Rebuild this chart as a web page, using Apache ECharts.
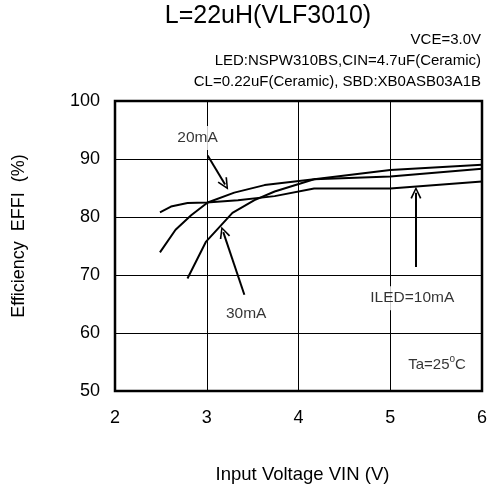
<!DOCTYPE html>
<html><head><meta charset="utf-8">
<script src="https://cdn.jsdelivr.net/npm/echarts@6/dist/echarts.min.js"></script>
<style>html,body{margin:0;padding:0;background:#fff}#c{width:487px;height:489px}</style>
</head><body><div id="c"></div>
<script>
const xTicks = [2, 3, 4, 5, 6];
const yTicks = [50, 60, 70, 80, 90, 100];
const led10mA = [[2.49,80.8],[2.61,81.8],[2.79,82.4],[3.0,82.5],[3.34,82.9],[3.74,83.6],[4.17,84.9],[5.0,84.9],[6.0,86.1]];
const led20mA = [[2.49,73.9],[2.66,77.8],[2.83,80.3],[3.01,82.5],[3.3,84.2],[3.63,85.5],[4.17,86.5],[5.0,88.1],[6.0,89.0]];
const led30mA = [[2.79,69.4],[2.99,75.7],[3.28,80.7],[3.52,82.9],[3.74,84.4],[4.17,86.5],[5.0,87.0],[6.0,88.3]];
const arrows = [
  [[3.01,90.6],[3.2,85.6]],
  [[3.41,66.6],[3.18,77.4]],
  [[5.28,71.4],[5.28,84.2]]
];
const notes = [
  {x:2.9, y:93.6, text:'20mA'},
  {x:3.43, y:63.3, text:'30mA'},
  {x:5.24, y:66.0, text:'ILED=10mA'}
];
const tempNote = {x:5.51, y:54.7};

const FONT = '"Liberation Sans", Arial, sans-serif';
const chevron = 'path://M0,10 L5,0 L10,10 L8.6,10.6 L5,3 L1.4,10.6 Z';
const lineSeries = (d) => ({type:'line', data:d, showSymbol:false, symbol:'none', lineStyle:{color:'#000', width:2}, z:3, silent:true});
const sub = (text, top) => ({text:text, right:6, top:top, padding:0, textStyle:{fontFamily:FONT, fontSize:15, fontWeight:'normal', color:'#000'}});

const chart = echarts.init(document.getElementById('c'));
chart.setOption({
  animation:false,
  backgroundColor:'#fff',
  title:[
    {text:'L=22uH(VLF3010)', left:268, top:4, padding:0, textAlign:'center', textStyle:{fontFamily:FONT, fontSize:25, fontWeight:'normal', color:'#000'}},
    sub('VCE=3.0V', 32),
    sub('LED:NSPW310BS,CIN=4.7uF(Ceramic)', 53),
    sub('CL=0.22uF(Ceramic), SBD:XB0ASB03A1B', 74)
  ],
  grid:{left:115, right:5, top:101, bottom:98, show:true, borderColor:'#000', borderWidth:2.5, backgroundColor:'transparent', containLabel:false, outerBoundsMode:'none'},
  xAxis:{type:'value', min:xTicks[0], max:xTicks[xTicks.length-1], interval:1,
    name:'Input Voltage VIN (V)', nameLocation:'middle', nameGap:74,
    nameTextStyle:{fontFamily:FONT, fontSize:18.5, color:'#000', padding:[0,0,0,8]},
    axisLine:{show:false}, axisTick:{show:false},
    axisLabel:{fontFamily:FONT, fontSize:18, color:'#000', margin:18},
    splitLine:{show:true, lineStyle:{color:'#000', width:1}}},
  yAxis:{type:'value', min:yTicks[0], max:yTicks[yTicks.length-1], interval:10,
    name:'Efficiency  EFFI  (%)', nameLocation:'middle', nameGap:87, nameRotate:90,
    nameTextStyle:{fontFamily:FONT, fontSize:18, color:'#000', padding:[0,0,0,20]},
    axisLine:{show:false}, axisTick:{show:false},
    axisLabel:{fontFamily:FONT, fontSize:18, color:'#000', margin:15},
    splitLine:{show:true, lineStyle:{color:'#000', width:1}}},
  series:[
    lineSeries(led10mA),
    lineSeries(led20mA),
    lineSeries(led30mA),
    {type:'scatter', data:[], silent:true, z:4,
      markLine:{silent:true, symbol:['none', chevron], symbolSize:[11,12],
        lineStyle:{color:'#000', width:2, type:'solid'}, itemStyle:{color:'#000'}, label:{show:false},
        data:arrows.map(a => [{coord:a[0]},{coord:a[1]}])}},
    {type:'scatter', symbolSize:0, silent:true, z:5,
      data:notes.map(n => ({value:[n.x,n.y], name:n.text})),
      label:{show:true, position:'inside', formatter:p => p.name, fontFamily:FONT, fontSize:15.5, color:'#000', backgroundColor:'#fff', padding:[4,3]}},
    {type:'scatter', symbolSize:0, silent:true, z:5,
      data:[{value:[tempNote.x,tempNote.y]}],
      label:{show:true, position:'inside', formatter:'{a|Ta=25}{s|o}{a|C}',
        backgroundColor:'#fff', padding:[3,3],
        rich:{a:{fontFamily:FONT, fontSize:15, color:'#000', verticalAlign:'bottom', lineHeight:18},
              s:{fontFamily:FONT, fontSize:10, color:'#000', verticalAlign:'top', lineHeight:18, padding:[0,0,7,0]}}}}
  ]
});
</script></body></html>
